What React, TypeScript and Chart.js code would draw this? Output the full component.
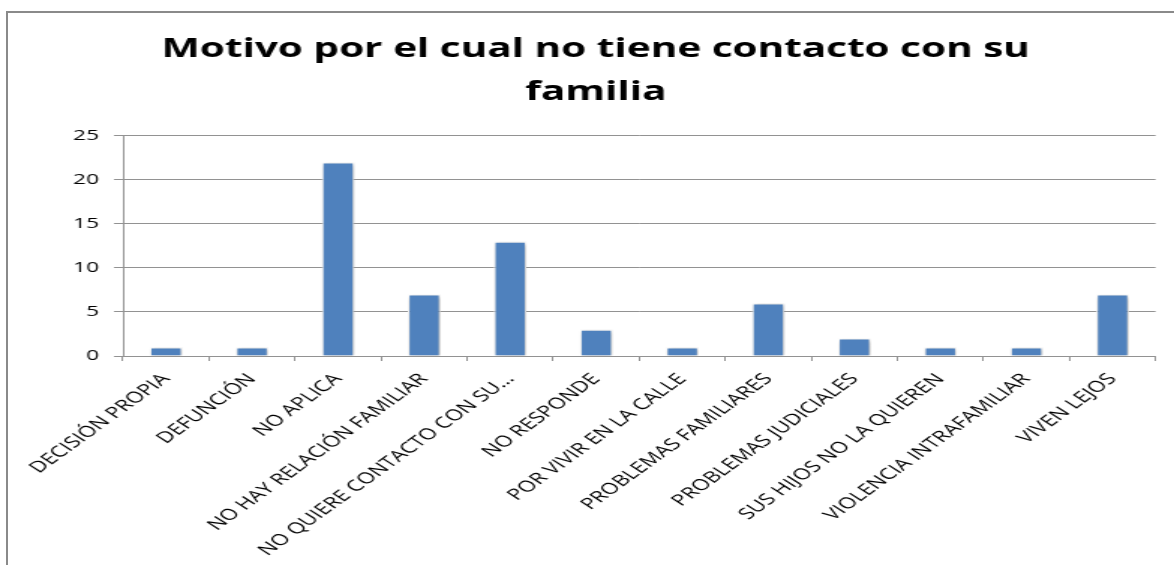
import React, { useEffect, useRef } from "react";
import { Chart, registerables } from "chart.js";

Chart.register(...registerables);

const titleLines = ["Motivo por el cual no tiene contacto con su", "familia"];

const categories = [
  "DECISIÓN PROPIA",
  "DEFUNCIÓN",
  "NO APLICA",
  "NO HAY RELACIÓN FAMILIAR",
  "NO QUIERE CONTACTO CON SU...",
  "NO RESPONDE",
  "POR VIVIR EN LA CALLE",
  "PROBLEMAS FAMILIARES",
  "PROBLEMAS JUDICIALES",
  "SUS HIJOS NO LA QUIEREN",
  "VIOLENCIA INTRAFAMILIAR",
  "VIVEN LEJOS",
];

const counts = [1, 1, 22, 7, 13, 3, 1, 6, 2, 1, 1, 7];

const yMin = 0;
const yMax = 25;
const yStep = 5;

// The reference image is a horizontally stretched chart; draw narrower and stretch.
const CANVAS_W = 783;
const CANVAS_H = 565;
const STRETCH = 1174 / CANVAS_W;

const GRID = "#929292";
const BAR = "#4F81BD";

const barShadow = {
  id: "barShadow",
  beforeDatasetsDraw(chart: any) {
    const c = chart.ctx;
    c.save();
    c.shadowColor = "rgba(0,0,0,0.28)";
    c.shadowBlur = 4;
    c.shadowOffsetX = 1;
    c.shadowOffsetY = 1;
  },
  afterDatasetsDraw(chart: any) {
    chart.ctx.restore();
  },
};

export default function App() {
  const ref = useRef<HTMLCanvasElement | null>(null);

  useEffect(() => {
    if (!ref.current) return;
    const chart = new Chart(ref.current, {
      type: "bar",
      data: {
        labels: categories,
        datasets: [
          {
            data: counts,
            backgroundColor: BAR,
            borderColor: "#ffffff",
            borderWidth: 1.2,
            barPercentage: 0.38,
            categoryPercentage: 1,
          },
        ],
      },
      plugins: [barShadow],
      options: {
        responsive: false,
        animation: false,
        devicePixelRatio: 1,
        layout: { padding: { left: 24, right: 12.3, top: 0, bottom: 0 } },
        plugins: {
          legend: { display: false },
          tooltip: { enabled: false },
          title: {
            display: true,
            text: titleLines,
            color: "#000000",
            font: { family: "'Open Sans'", size: 27, weight: "bold", lineHeight: 1.58 },
            padding: { top: 28, bottom: 22.6 },
          },
        },
        scales: {
          x: {
            grid: {
              display: true,
              drawOnChartArea: false,
              drawTicks: true,
              tickLength: 5,
              color: GRID,
              offset: true,
            },
            border: { display: true, color: GRID, width: 1 },
            ticks: {
              autoSkip: false,
              minRotation: 47,
              maxRotation: 47,
              color: "#000000",
              padding: 9,
              font: { family: "'Open Sans'", size: 15.5 },
            },
            afterFit: (scale: any) => {
              scale.height = 209;
              scale.paddingLeft = 0;
              scale.paddingRight = 0;
            },
          },
          y: {
            min: yMin,
            max: yMax,
            ticks: {
              stepSize: yStep,
              color: "#000000",
              padding: 10,
              font: { family: "'Open Sans'", size: 15 },
            },
            grid: { color: GRID, tickLength: 6, lineWidth: 1 },
            border: { display: true, color: GRID, width: 1 },
            afterFit: (scale: any) => {
              scale.width = 58;
              scale.paddingTop = 0;
              scale.paddingBottom = 0;
            },
          },
        },
      },
    });
    return () => chart.destroy();
  }, []);

  return (
    <div
      style={{
        position: "fixed",
        left: 0,
        top: 0,
        width: 1174,
        height: 565,
        overflow: "hidden",
        background: "#ffffff",
      }}
    >
      <div
        style={{
          position: "absolute",
          left: 6,
          top: 11,
          width: 1300,
          height: 700,
          border: "2px solid #8a8a8a",
        }}
      />
      <div
        style={{
          position: "absolute",
          left: 0,
          top: 0,
          width: CANVAS_W,
          height: CANVAS_H,
          transform: `scaleX(${STRETCH})`,
          transformOrigin: "0 0",
        }}
      >
        <canvas ref={ref} width={CANVAS_W} height={CANVAS_H} style={{ display: "block" }} />
      </div>
    </div>
  );
}
